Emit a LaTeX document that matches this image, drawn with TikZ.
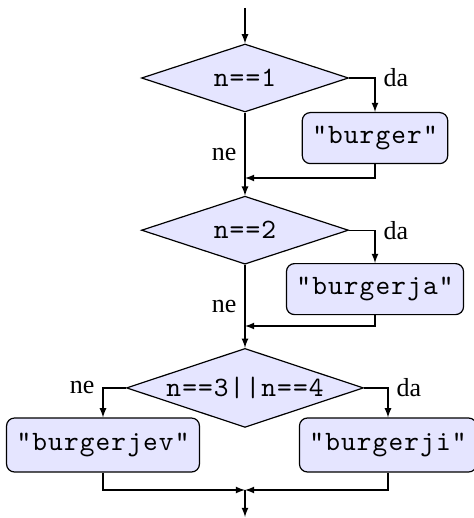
\documentclass[tikz,border=0pt]{standalone}
\usepackage{fontspec}
\setmainfont{Liberation Serif}
\setmonofont{lmmono10-regular}[Extension=.otf,LetterSpace=4]
\usetikzlibrary{positioning,shapes.geometric}
\tikzset{>=latex}
\tikzset{
  cond/.style={diamond,draw,fill=blue!10,inner sep=0pt,shape aspect=3,
    minimum width=103.5pt,minimum height=34pt,
    font=\ttfamily\fontsize{14}{16}\selectfont},
  stmt/.style={rectangle,rounded corners=4pt,draw,fill=blue!10,
    inner xsep=5pt,minimum height=25.5pt,
    font=\ttfamily\fontsize{14}{16}\selectfont},
  lbl/.style={inner sep=4pt,font=\fontsize{13}{15}\selectfont},
}

\begin{document}
\begin{tikzpicture}[x=0.5pt,y=-0.5pt,node distance=41.5pt,line width=0.6pt]
\useasboundingbox (0,0) rectangle (473,518);
\coordinate (S) at (245,8);
\node [cond] (D1) at (245,78) {n==1};
\node [cond,below=of D1] (D2) {n==2};
\node [cond,below=of D2,minimum width=118.5pt,minimum height=39.5pt] (D3) {n==3||n==4};
\node [stmt,anchor=north] (B1) at (375,112) {"burger"};
\node [stmt,anchor=north] (B2) at (375,263) {"burgerja"};
\node [stmt,minimum height=27pt] (B3) at (103,445) {"burgerjev"};
\node [stmt,minimum height=27pt] (B4) at (388,445) {"burgerji"};
\coordinate (M1) at (245,178);
\coordinate (M2) at (245,326);
\coordinate (M3) at (245,490);
\coordinate (E) at (245,517);

% first test
\draw [->] (S) -- (D1);
\draw [->] (D1.east) -| node [lbl,pos=0.5,anchor=west] {da} (B1.north);
\draw [->] (B1.south) |- (M1);
\draw [->] (D1) -- node [lbl,left] {ne} (D2);

% second test
\draw [->] (D2.east) -| node [lbl,pos=0.5,anchor=west] {da} (B2.north);
\draw [->] (B2.south) |- (M2);
\draw [->] (D2) -- node [lbl,left] {ne} (D3);

% third test, both branches meet again below
\draw [->] (D3.west) -| node [lbl,pos=0.5,anchor=east] {ne} (B3.north);
\draw [->] (D3.east) -| node [lbl,pos=0.5,anchor=west] {da} (B4.north);
\draw [->] (B3.south) |- (M3);
\draw [->] (B4.south) |- (M3);
\draw [->] (M3) -- (E);
\end{tikzpicture}
\end{document}
